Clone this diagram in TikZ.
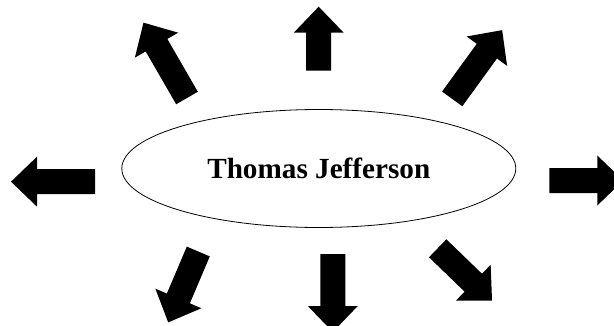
\documentclass[tikz,border=0pt]{standalone}
\usepackage{fontspec}
\setmainfont{Liberation Serif}
\usetikzlibrary{shapes.geometric}

\begin{document}
\begin{tikzpicture}[x=1pt,y=1pt,topic/.style={ellipse,draw,line width=0.8pt,minimum width=394pt,minimum height=118pt,inner sep=0pt,font=\fontsize{29.2}{35}\selectfont\bfseries},pics/blockarrow/.style={code={\fill (0,-12.5)--({#1-26},-12.5)--({#1-26},-25)--(#1,0)--({#1-26},25)--({#1-26},12.5)--(0,12.5)--cycle;}}]
\useasboundingbox (0,0) rectangle (614,325);
\node[topic] (tj) at (318.8,156.5) {Thomas Jefferson};
% arrows pointing away from the name
\pic[rotate=120] at (187,227) {blockarrow=87};
\pic[rotate=90] at (318.7,254.3) {blockarrow=64};
\pic[rotate=54] at (452.2,226.1) {blockarrow=85};
\pic[rotate=180] at (95,143.3) {blockarrow=84};
\pic[rotate=0] at (549.3,144.5) {blockarrow=74};
\pic[rotate=-113] at (198.3,73.5) {blockarrow=77};
\pic[rotate=-90] at (332.8,71) {blockarrow=78};
\pic[rotate=-44] at (437.7,76.7) {blockarrow=75.5};
\end{tikzpicture}
\end{document}
